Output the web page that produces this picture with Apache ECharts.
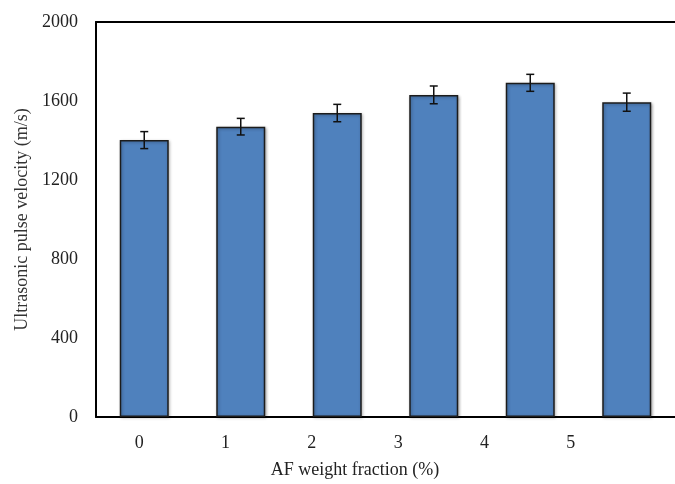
<!DOCTYPE html>
<html>
<head>
<meta charset="utf-8">
<script src="https://cdn.jsdelivr.net/npm/echarts@6/dist/echarts.min.js"></script>
<style>
html, body { margin: 0; padding: 0; background: #fff; }
#chart { width: 675px; height: 484px; }
</style>
</head>
<body>
<div id="chart"></div>
<script>
var categories = ['0', '1', '2', '3', '4', '5'];
var velocity = [1402, 1470, 1539, 1631, 1692, 1594];
var errors = [43, 42, 44, 45, 43, 46];
var yTicks = [0, 400, 800, 1200, 1600, 2000];

var font = 'Liberation Serif';
var frame = { show : true, lineStyle : { color : '#000', width : 2 } };

var errorData = velocity.map(function (v, i) {
	return [i, v - errors[i], v + errors[i]];
});

var option = {
	backgroundColor : '#fff',
	animation : false,
	grid : [ {
		left : 96,
		width : 582,
		top : 22,
		bottom : 67
	}, {
		// label strip, the tick labels sit tighter than the bars in the original
		left : 96,
		width : 518,
		top : 22,
		bottom : 67
	} ],
	xAxis : [ {
		type : 'category',
		gridIndex : 0,
		data : categories,
		axisLine : frame,
		axisTick : { show : false },
		axisLabel : { show : false }
	}, {
		type : 'category',
		gridIndex : 1,
		data : categories,
		axisLine : { show : false },
		axisTick : { show : false },
		axisLabel : {
			margin : 20,
			fontFamily : font,
			fontSize : 18,
			color : '#222'
		},
		name : 'AF weight fraction (%)',
		nameLocation : 'middle',
		nameGap : 47,
		nameTextStyle : {
			fontFamily : font,
			fontSize : 18,
			color : '#222'
		}
	}, {
		// top edge of the frame
		type : 'category',
		gridIndex : 0,
		position : 'top',
		data : categories,
		axisLine : frame,
		axisTick : { show : false },
		axisLabel : { show : false }
	} ],
	yAxis : [ {
		type : 'value',
		gridIndex : 0,
		min : yTicks[0],
		max : yTicks[yTicks.length - 1],
		interval : 400,
		axisLine : frame,
		axisTick : { show : false },
		splitLine : { show : false },
		axisLabel : {
			margin : 18,
			fontFamily : font,
			fontSize : 18,
			color : '#222',
			formatter : function (v) { return String(v); }
		},
		name : 'Ultrasonic pulse velocity (m/s)',
		nameLocation : 'middle',
		nameGap : 64,
		nameTextStyle : {
			fontFamily : font,
			fontSize : 18,
			color : '#333'
		}
	}, {
		type : 'value',
		gridIndex : 1,
		min : 0,
		max : 1,
		show : false
	} ],
	series : [ {
		type : 'bar',
		xAxisIndex : 0,
		yAxisIndex : 0,
		barWidth : 49,
		data : velocity,
		itemStyle : {
			color : '#4f81bd',
			borderColor : '#1c1c1c',
			borderWidth : 1.5,
			shadowColor : 'rgba(0,0,0,0.3)',
			shadowBlur : 3,
			shadowOffsetX : 1,
			shadowOffsetY : 1
		}
	}, {
		type : 'custom',
		xAxisIndex : 0,
		yAxisIndex : 0,
		data : errorData,
		z : 10,
		renderItem : function (params, api) {
			var lo = api.coord([ api.value(0), api.value(1) ]);
			var hi = api.coord([ api.value(0), api.value(2) ]);
			var x = lo[0], w = 4;
			var style = { stroke : '#111', lineWidth : 1.5 };
			return {
				type : 'group',
				children : [
					{ type : 'line', shape : { x1 : x, y1 : lo[1], x2 : x, y2 : hi[1] }, style : style },
					{ type : 'line', shape : { x1 : x - w, y1 : lo[1], x2 : x + w, y2 : lo[1] }, style : style },
					{ type : 'line', shape : { x1 : x - w, y1 : hi[1], x2 : x + w, y2 : hi[1] }, style : style }
				]
			};
		}
	} ]
};

var chart = echarts.init(document.getElementById('chart'));
chart.setOption(option);
</script>
</body>
</html>
